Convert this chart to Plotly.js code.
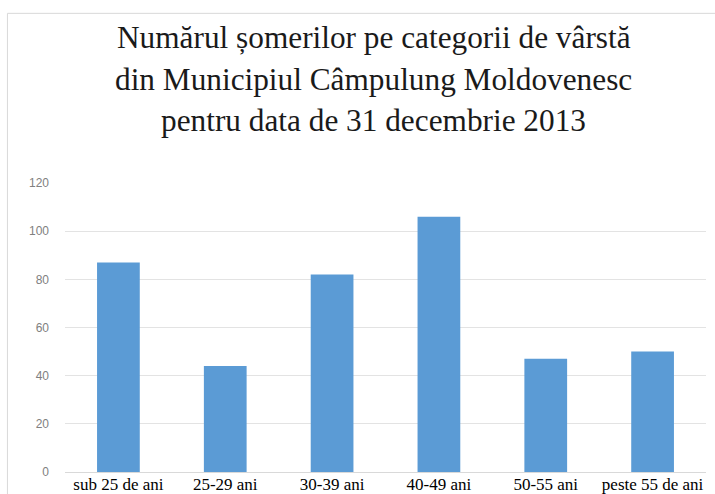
<!DOCTYPE html>
<html>
<head>
<meta charset="utf-8">
<script src="https://cdn.plot.ly/plotly-3.0.1.min.js"></script>
<style>html,body{margin:0;padding:0;background:#fff;}#chart{width:715px;height:494px;}</style>
</head>
<body>
<div id="chart"></div>
<script>
const categories = ["sub 25 de ani", "25-29 ani", "30-39 ani", "40-49 ani", "50-55 ani", "peste 55 de ani"];
const values = [87, 44, 82, 106, 47, 50];
const yTicks = [0, 20, 40, 60, 80, 100, 120];
const titleLines = ["Numărul șomerilor pe categorii de vârstă", "din Municipiul Câmpulung Moldovenesc", "pentru data de 31 decembrie 2013"];
const titleLineY = [1.503, 1.358, 1.215];

const serif = "Liberation Serif, Times New Roman, Times, serif";

const trace = {
  type: "bar",
  x: categories,
  y: values,
  marker: {color: "#5b9bd5"},
  hoverinfo: "x+y"
};

const layout = {
  width: 715,
  height: 494,
  paper_bgcolor: "#ffffff",
  plot_bgcolor: "#ffffff",
  margin: {l: 65, r: 9, t: 183, b: 22, pad: 0},
  bargap: 0.6,
  showlegend: false,
  xaxis: {
    type: "category",
    tickfont: {family: serif, size: 17, color: "#000000"},
    showgrid: false,
    showline: false,
    ticks: "",
    ticklabelstandoff: 0
  },
  yaxis: {
    range: [0, 120],
    tickvals: yTicks,
    ticktext: yTicks.map(String),
    tickfont: {family: "Liberation Sans, Arial, sans-serif", size: 12, color: "#808080"},
    showgrid: true,
    gridcolor: "#e3e3e3",
    gridwidth: 1,
    zeroline: true,
    zerolinecolor: "#d9d9d9",
    showline: false,
    ticks: "",
    ticklabelstandoff: 15
  },
  annotations: titleLines.map((t, i) => ({
    text: t,
    xref: "paper", yref: "paper",
    x: 0.482, y: titleLineY[i],
    xanchor: "center", yanchor: "middle",
    showarrow: false,
    font: {family: serif, size: 31.3, color: "#1a1a1a"}
  })),
  shapes: [{
    type: "path", xref: "paper", yref: "paper",
    path: "M -0.0898,-0.3 L -0.0898,1.587 L 1.3,1.587",
    line: {color: "#d9d9d9", width: 1},
    layer: "below"
  }]
};

Plotly.newPlot("chart", [trace], layout, {displayModeBar: false, staticPlot: true});
</script>
</body>
</html>
